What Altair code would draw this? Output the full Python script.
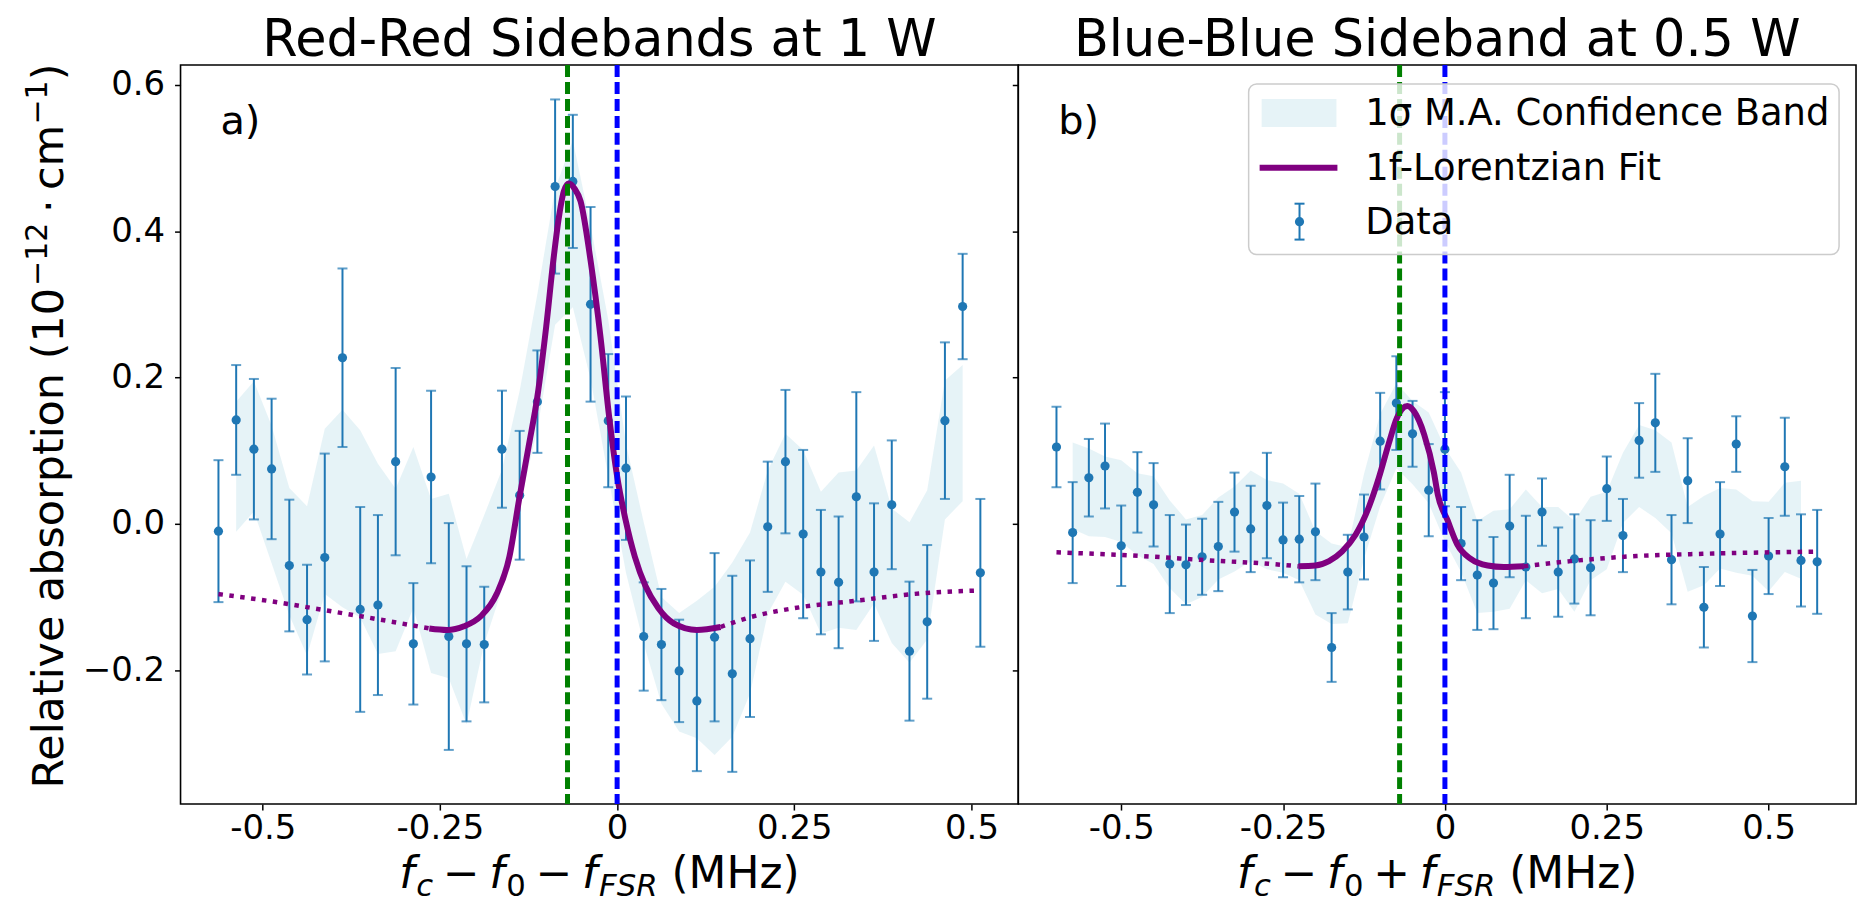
import altair as alt
import pandas as pd

# ---------------- Left panel : Red-Red Sidebands at 1 W ----------------
left_x = [-0.5625, -0.5375, -0.5125, -0.4875, -0.4625, -0.4375, -0.4125, -0.3875, -0.3625, -0.3375,
          -0.3125, -0.2875, -0.2625, -0.2375, -0.2125, -0.1875, -0.1625, -0.1375, -0.1125, -0.0875,
          -0.0625, -0.0375, -0.0125, 0.0125, 0.0375, 0.0625, 0.0875, 0.1125, 0.1375, 0.1625,
          0.1875, 0.2125, 0.2375, 0.2625, 0.2875, 0.3125, 0.3375, 0.3625, 0.3875, 0.4125,
          0.4375, 0.4625, 0.4875, 0.5125]
left_y = [-0.010, 0.142, 0.102, 0.075, -0.057, -0.131, -0.046, 0.227, -0.117, -0.111,
          0.085, -0.164, 0.064, -0.154, -0.164, -0.165, 0.102, 0.039, 0.167, 0.461,
          0.468, 0.300, 0.141, 0.076, -0.154, -0.165, -0.201, -0.242, -0.155, -0.205,
          -0.157, -0.004, 0.085, -0.014, -0.066, -0.080, 0.037, -0.066, 0.026, -0.174,
          -0.134, 0.141, 0.297, -0.067]
left_err = [0.097, 0.075, 0.096, 0.096, 0.090, 0.075, 0.142, 0.122, 0.140, 0.123,
            0.128, 0.083, 0.118, 0.155, 0.106, 0.079, 0.080, 0.088, 0.070, 0.119,
            0.091, 0.133, 0.091, 0.098, 0.074, 0.076, 0.070, 0.096, 0.115, 0.134,
            0.107, 0.089, 0.098, 0.115, 0.085, 0.090, 0.143, 0.094, 0.088, 0.095,
            0.105, 0.107, 0.072, 0.101]
left_band_lo = [-0.011, 0.017, -0.054, -0.125, -0.180, -0.096, -0.114, -0.128, -0.178, -0.174,
                -0.115, -0.204, -0.211, -0.274, -0.164, -0.090, 0.024, 0.130, 0.272, 0.296,
                0.198, 0.065, -0.067, -0.164, -0.246, -0.284, -0.293, -0.316, -0.291, -0.232,
                -0.123, -0.079, -0.097, -0.150, -0.142, -0.145, -0.109, -0.163, -0.190, -0.158,
                0.006, 0.031]
left_band_hi = [0.167, 0.195, 0.134, 0.049, 0.024, 0.130, 0.156, 0.128, 0.082, 0.048,
                0.105, 0.034, 0.041, -0.048, 0.012, 0.074, 0.182, 0.314, 0.458, 0.524,
                0.408, 0.279, 0.109, 0.002, -0.100, -0.122, -0.105, -0.086, -0.053, -0.012,
                0.073, 0.123, 0.101, 0.044, 0.070, 0.073, 0.107, 0.021, 0.002, 0.046,
                0.196, 0.217]
left_fit_x = [-0.5625, -0.4875, -0.4125, -0.34, -0.265,
              -0.265, -0.24, -0.216, -0.192, -0.17, -0.152, -0.138, -0.125, -0.1125, -0.1,
              -0.09, -0.082, -0.075, -0.068, -0.06, -0.0516, -0.0375, -0.0234, -0.0117, 0.0,
              0.012, 0.025, 0.04, 0.058, 0.08, 0.1125, 0.146,
              0.146, 0.183, 0.258, 0.338, 0.417, 0.5125]
left_fit_y = [-0.096, -0.106, -0.118, -0.130, -0.143,
              -0.143, -0.145, -0.140, -0.126, -0.096, -0.045, 0.035, 0.105, 0.174, 0.270,
              0.360, 0.420, 0.455, 0.465, 0.458, 0.441, 0.360, 0.255, 0.150, 0.065,
              0.005, -0.045, -0.085, -0.115, -0.136, -0.145, -0.141,
              -0.141, -0.129, -0.114, -0.105, -0.096, -0.091]
left_fit_seg = ["dot_a"] * 5 + ["solid"] * 27 + ["dot_b"] * 6

# ---------------- Right panel : Blue-Blue Sideband at 0.5 W ----------------
right_x = [-0.600, -0.575, -0.550, -0.525, -0.500, -0.475, -0.450, -0.425, -0.400, -0.375,
           -0.350, -0.325, -0.300, -0.275, -0.250, -0.225, -0.200, -0.175, -0.150, -0.125,
           -0.100, -0.075, -0.050, -0.025, 0.000, 0.025, 0.050, 0.075, 0.100, 0.125,
           0.150, 0.175, 0.200, 0.225, 0.250, 0.275, 0.300, 0.325, 0.350, 0.375,
           0.400, 0.425, 0.450, 0.475, 0.500, 0.525, 0.550, 0.575]
right_y = [0.105, -0.012, 0.063, 0.079, -0.030, 0.043, 0.026, -0.055, -0.056, -0.045,
           -0.031, 0.016, -0.007, 0.025, -0.022, -0.021, -0.011, -0.169, -0.066, -0.018,
           0.113, 0.165, 0.123, 0.046, 0.102, -0.027, -0.070, -0.081, -0.003, -0.059,
           0.016, -0.066, -0.048, -0.060, 0.048, -0.016, 0.114, 0.138, -0.049, 0.059,
           -0.114, -0.014, 0.109, -0.126, -0.044, 0.078, -0.050, -0.052]
right_err = [0.055, 0.069, 0.053, 0.058, 0.055, 0.055, 0.057, 0.067, 0.055, 0.052,
             0.061, 0.054, 0.059, 0.072, 0.051, 0.059, 0.066, 0.047, 0.051, 0.058,
             0.066, 0.064, 0.045, 0.063, 0.078, 0.050, 0.075, 0.063, 0.070, 0.070,
             0.046, 0.061, 0.061, 0.065, 0.044, 0.050, 0.051, 0.067, 0.061, 0.058,
             0.055, 0.071, 0.038, 0.063, 0.052, 0.067, 0.063, 0.071]
right_band_lo = [-0.007, -0.017, -0.018, -0.025, -0.043, -0.055, -0.088, -0.110, -0.100, -0.076,
                 -0.065, -0.051, -0.062, -0.067, -0.077, -0.124, -0.137, -0.136, -0.048, 0.024,
                 0.076, 0.054, 0.028, -0.024, -0.066, -0.122, -0.120, -0.116, -0.077, -0.095,
                 -0.089, -0.120, -0.077, -0.062, 0.001, 0.023, 0.008, -0.013, -0.093, -0.084,
                 -0.061, -0.067, -0.071, -0.092, -0.066, -0.075]
right_band_hi = [0.111, 0.103, 0.092, 0.087, 0.069, 0.065, 0.032, 0.006, 0.012, 0.036,
                 0.051, 0.073, 0.060, 0.055, 0.041, -0.010, -0.027, -0.032, 0.068, 0.150,
                 0.192, 0.168, 0.152, 0.104, 0.070, 0.004, 0.018, 0.020, 0.047, 0.023,
                 0.023, 0.004, 0.037, 0.044, 0.097, 0.135, 0.128, 0.111, 0.023, 0.038,
                 0.049, 0.047, 0.031, 0.030, 0.056, 0.059]
right_fit_x = [-0.600, -0.468, -0.365, -0.282, -0.226,
               -0.226, -0.200, -0.179, -0.159, -0.138, -0.117, -0.102, -0.087, -0.074, -0.058,
               -0.048, -0.032, -0.017, -0.011, 0.004, 0.019, 0.040, 0.066, 0.091, 0.122,
               0.122, 0.194, 0.296, 0.398, 0.501, 0.575]
right_fit_y = [-0.039, -0.044, -0.050, -0.054, -0.058,
               -0.058, -0.057, -0.051, -0.038, -0.015, 0.024, 0.063, 0.109, 0.145, 0.161,
               0.154, 0.122, 0.070, 0.040, 0.005, -0.028, -0.048, -0.057, -0.059, -0.058,
               -0.058, -0.051, -0.044, -0.041, -0.039, -0.038]
right_fit_seg = ["dot_a"] * 5 + ["solid"] * 20 + ["dot_b"] * 6

# ---------------- shared settings ----------------
x_tick_values = [-0.5, -0.25, 0, 0.25, 0.5]
x_tick_labels = ["-0.5", "-0.25", "0", "0.25", "0.5"]
y_tick_values = [-0.2, 0.0, 0.2, 0.4, 0.6]
y_domain = [-0.383, 0.627]
left_x_domain = [-0.616, 0.566]
right_x_domain = [-0.659, 0.635]
marker_lines_x = [-0.07, 0.0]
marker_lines_color = ["green", "blue"]

titles = ["Red-Red Sidebands at 1 W", "Blue-Blue Sideband at 0.5 W"]
tags = ["a)", "b)"]
legend_labels = ["1σ M.A. Confidence Band", "1f-Lorentzian Fit", "Data"]

W, H = 840, 741
FONT = "DejaVu Sans"
DATA_BLUE = "#1f77b4"
FIT_PURPLE = "#800080"
BAND_COLOR = "lightblue"

# approximate DejaVu Sans advance widths (em) used to lay out composed titles
ADV = {" ": 0.318, "(": 0.390, ")": 0.390, "0": 0.636, "1": 0.636, "2": 0.636, "−": 0.838, "+": 0.838,
       "·": 0.318, "a": 0.613, "b": 0.635, "c": 0.550, "e": 0.615, "f": 0.352, "i": 0.278, "l": 0.278,
       "m": 0.974, "n": 0.634, "o": 0.612, "p": 0.635, "r": 0.411, "s": 0.521, "t": 0.392, "v": 0.592,
       "z": 0.525, "F": 0.575, "H": 0.752, "M": 0.863, "R": 0.695, "S": 0.635}


def adv(text, size):
    return sum(ADV.get(ch, 0.6) for ch in text) * size


def one_row():
    return alt.Data(values=[{"k": 1}])


def text_layer(text, x, y, size, italic=False, angle=0, align="left", baseline="alphabetic"):
    kw = dict(text=text, fontSize=size, font=FONT, color="black", align=align, baseline=baseline)
    if italic:
        kw["fontStyle"] = "italic"
    if angle:
        kw["angle"] = angle
    return alt.Chart(one_row()).mark_text(**kw).encode(x=alt.value(x), y=alt.value(y))


def x_title_layers(op):
    S = 44
    s = S * 0.7
    gap = 0.222 * S
    # (text, size, italic, baseline drop, space before)
    pieces = [("f", S, True, 0, 0), ("c", s, True, 8, 1.5), ("−", S, False, 0, gap),
              ("f", S, True, 0, gap), ("0", s, False, 8, 1.5), (op, S, False, 0, gap),
              ("f", S, True, 0, gap), ("FSR", s, True, 8, 1.5), ("(MHz)", S, False, 0, 0.318 * S)]
    total = sum(adv(t, sz) + pre for t, sz, it, d, pre in pieces)
    cur = W / 2 - total / 2
    base = 825
    layers = []
    for t, sz, it, d, pre in pieces:
        cur += pre
        layers.append(text_layer(t, cur, base + d, sz, italic=it))
        cur += adv(t, sz)
    return layers


def y_title_layers():
    S = 43
    s = S * 0.7
    gap = 0.222 * S
    pieces = [("Relative absorption (10", S, 0, 0), ("−12", s, 16, 0), ("·", S, 0, gap),
              ("cm", S, 0, gap), ("−1", s, 16, 0), (")", S, 0, 0)]
    total = sum(adv(t, sz) + pre for t, sz, sh, pre in pieces)
    center = 362
    cur = center + total / 2
    xb = -118
    layers = []
    for t, sz, sh, pre in pieces:
        cur -= pre
        layers.append(text_layer(t, xb - sh, cur, sz, angle=270))
        cur -= adv(t, sz)
    return layers


def label_expr(vals, labels):
    expr = "''"
    for v, l in reversed(list(zip(vals, labels))):
        expr = f"abs(datum.value - ({v})) < 1e-9 ? '{l}' : {expr}"
    return expr


def legend_layers():
    layers = []
    box = alt.Chart(one_row()).mark_rect(
        fill="white", fillOpacity=0.8, stroke="#cccccc", strokeWidth=1.5, cornerRadius=8
    ).encode(x=alt.value(231), x2=alt.value(823), y=alt.value(19), y2=alt.value(190))
    layers.append(box)
    swatch = alt.Chart(one_row()).mark_rect(fill=BAND_COLOR, opacity=0.3).encode(
        x=alt.value(244), x2=alt.value(319), y=alt.value(34), y2=alt.value(62))
    layers.append(swatch)
    line = alt.Chart(one_row()).mark_rule(color=FIT_PURPLE, strokeWidth=6).encode(
        x=alt.value(242), x2=alt.value(320), y=alt.value(103))
    layers.append(line)
    layers.append(alt.Chart(one_row()).mark_rule(color=DATA_BLUE, strokeWidth=2).encode(
        x=alt.value(282), y=alt.value(139), y2=alt.value(175)))
    for yy in (139, 175):
        layers.append(alt.Chart(one_row()).mark_rule(color=DATA_BLUE, strokeWidth=2).encode(
            x=alt.value(277), x2=alt.value(287), y=alt.value(yy)))
    layers.append(alt.Chart(one_row()).mark_circle(color=DATA_BLUE, opacity=1, size=85).encode(
        x=alt.value(282), y=alt.value(157)))
    for lab, yy in zip(legend_labels, (60, 115, 169)):
        layers.append(text_layer(lab, 348, yy, 37))
    return layers


def panel(xv, yv, ev, blo, bhi, fx, fy, fseg, xdom, show_ylabels, title, tag, op, legend):
    xs = alt.Scale(domain=xdom, nice=False, zero=False)
    ys = alt.Scale(domain=y_domain, nice=False, zero=False)
    xaxis = alt.Axis(values=x_tick_values, labelExpr=label_expr(x_tick_values, x_tick_labels),
                     title=None, grid=False, domain=False, ticks=True, tickSize=6, tickWidth=1.5,
                     tickColor="black", labelFontSize=34, labelPadding=2, labelColor="black",
                     labelFont=FONT, labelFlush=False, labelOverlap=False)
    yaxis = alt.Axis(values=y_tick_values, format=".1f", title=None, grid=False, domain=False,
                     ticks=True, tickSize=6, tickWidth=1.5, tickColor="black", labels=show_ylabels,
                     labelFontSize=34, labelPadding=10, labelColor="black", labelFont=FONT,
                     labelFlush=False, labelOverlap=False)
    X = alt.X("x:Q", scale=xs, axis=xaxis)

    pts = pd.DataFrame({"x": xv, "y": yv, "lo": [a - b for a, b in zip(yv, ev)],
                        "hi": [a + b for a, b in zip(yv, ev)]})
    caps = pd.DataFrame({"x": xv + xv, "y": pts["lo"].tolist() + pts["hi"].tolist()})
    band = pd.DataFrame({"x": xv[1:-1], "lo": blo, "hi": bhi})
    fit = pd.DataFrame({"x": fx, "y": fy, "seg": fseg})
    vl = pd.DataFrame({"x": marker_lines_x, "c": marker_lines_color})

    layers = [
        alt.Chart(band).mark_area(color=BAND_COLOR, opacity=0.3).encode(
            x=X, y=alt.Y("lo:Q", scale=ys, axis=yaxis), y2="hi:Q"),
        alt.Chart(pts).mark_rule(color=DATA_BLUE, strokeWidth=2).encode(
            x=X, y=alt.Y("lo:Q", scale=ys, axis=yaxis), y2="hi:Q"),
        alt.Chart(caps).mark_tick(color=DATA_BLUE, orient="horizontal", size=10, thickness=2).encode(
            x=X, y=alt.Y("y:Q", scale=ys, axis=yaxis)),
        alt.Chart(pts).mark_circle(color=DATA_BLUE, opacity=1, size=85).encode(
            x=X, y=alt.Y("y:Q", scale=ys, axis=yaxis)),
        alt.Chart(fit).transform_filter("datum.seg != 'solid'").mark_line(
            color=FIT_PURPLE, strokeWidth=4.5, strokeDash=[4.5, 6.5], strokeCap="butt",
            interpolate="monotone").encode(
            x=X, y=alt.Y("y:Q", scale=ys, axis=yaxis), detail="seg:N"),
        alt.Chart(fit).transform_filter("datum.seg == 'solid'").mark_line(
            color=FIT_PURPLE, strokeWidth=6, interpolate="monotone").encode(
            x=X, y=alt.Y("y:Q", scale=ys, axis=yaxis)),
        alt.Chart(vl).mark_rule(strokeWidth=5, strokeDash=[12, 5]).encode(
            x=X, color=alt.Color("c:N", scale=None)),
    ]
    if legend:
        layers += legend_layers()
    layers.append(text_layer(tag, 40, 69, 40))
    layers.append(text_layer(title, W / 2, -9, 51, align="center"))
    layers += x_title_layers(op)
    if show_ylabels:
        layers += y_title_layers()
    return alt.layer(*layers).properties(width=W, height=H)


left = panel(left_x, left_y, left_err, left_band_lo, left_band_hi, left_fit_x, left_fit_y,
             left_fit_seg, left_x_domain, True, titles[0], tags[0], "−", False)
right = panel(right_x, right_y, right_err, right_band_lo, right_band_hi, right_fit_x, right_fit_y,
              right_fit_seg, right_x_domain, False, titles[1], tags[1], "+", True)

chart = alt.hconcat(left, right, spacing=0, bounds="flush").properties(
    padding={"left": 14, "top": 5, "right": 5, "bottom": 0},
    background="white",
).configure(font=FONT).configure_view(stroke="black", strokeWidth=1.6)

chart.save("out.html", embed_options={"renderer": "svg", "actions": False})
